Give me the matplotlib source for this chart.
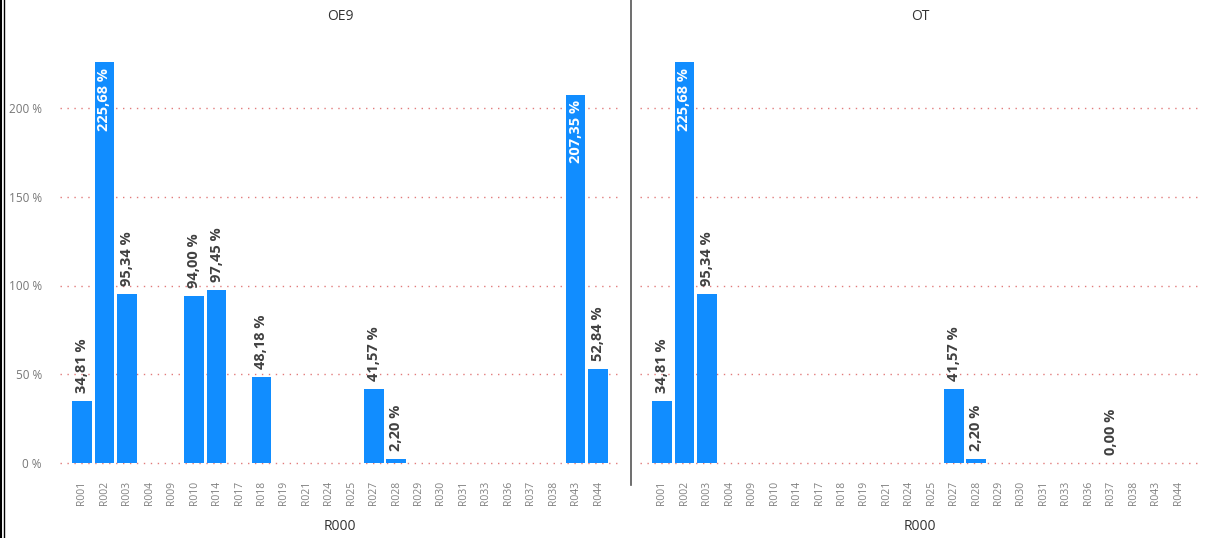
import matplotlib.pyplot as plt
import numpy as np

plt.rcParams['font.family'] = ['Open Sans', 'DejaVu Sans']

categories = ['R001', 'R002', 'R003', 'R004', 'R009', 'R010', 'R014', 'R017',
              'R018', 'R019', 'R021', 'R024', 'R025', 'R027', 'R028', 'R029',
              'R030', 'R031', 'R033', 'R036', 'R037', 'R038', 'R043', 'R044']

# percent values, nan = no data
oe9_values = [34.81, 225.68, 95.34, np.nan, np.nan, 94.00, 97.45, np.nan,
              48.18, np.nan, np.nan, np.nan, np.nan, 41.57, 2.20, np.nan,
              np.nan, np.nan, np.nan, np.nan, np.nan, np.nan, 207.35, 52.84]
ot_values = [34.81, 225.68, 95.34, np.nan, np.nan, np.nan, np.nan, np.nan,
             np.nan, np.nan, np.nan, np.nan, np.nan, 41.57, 2.20, np.nan,
             np.nan, np.nan, np.nan, np.nan, 0.00, np.nan, np.nan, np.nan]

panel_titles = ['OE9', 'OT']
yticks = [0, 50, 100, 150, 200]

bar_color = '#118DFF'
W, H = 1211, 538
fig = plt.figure(figsize=(W / 100, H / 100), dpi=100)

def fx(px):
    return px / W

def fy(py):
    return 1 - py / H

ymin, ymax = -1.5, 240
y0 = 463 - ymin * 1.775
y_top = 463 - ymax * 1.775
panels = [(60, oe9_values), (640, ot_values)]

for k, (left, vals) in enumerate(panels):
    ax = fig.add_axes([fx(left), fy(y0), fx(560), (y0 - y_top) / H])
    x = np.arange(len(categories))
    v = np.array(vals, dtype=float)
    ax.bar(x, np.nan_to_num(v), width=0.88, color=bar_color, zorder=3)
    ax.set_xlim(-0.98, len(categories) - 0.02)
    ax.set_ylim(ymin, ymax)
    for s in ax.spines.values():
        s.set_visible(False)
    ax.set_yticks(yticks)
    ax.yaxis.grid(True, color='#E27B7B', linestyle=(0, (1, 4)), linewidth=1.0, zorder=0)
    ax.tick_params(axis='y', length=0, pad=13, labelsize=8.5, labelcolor='#777777')
    if k == 0:
        ax.set_yticklabels([f'{t} %' for t in yticks])
    else:
        ax.set_yticklabels([])
    ax.set_xticks(x)
    ax.set_xticklabels(categories, rotation=90, fontsize=7.5, color='#808080')
    ax.tick_params(axis='x', length=0, pad=11)
    ax.set_xlabel('R000', fontsize=10, color='#333333', labelpad=10)

    for xi, val in zip(x, v):
        if np.isnan(val):
            continue
        txt = f'{val:.2f} %'.replace('.', ',')
        if val > 190:
            ax.text(xi, val - 3, txt, rotation=90, ha='center', va='top',
                    color='white', fontsize=10.5, fontweight='bold', zorder=4)
        else:
            ax.text(xi, val + 4.5, txt, rotation=90, ha='center', va='bottom',
                    color='#404040', fontsize=10.5, fontweight='bold', zorder=4)

    fig.text(fx(left + 280), fy(17), panel_titles[k], ha='center', va='center',
             fontsize=10, color='#333333')

# panel separator and left border
fig.add_artist(plt.Line2D([fx(631), fx(631)], [fy(0), fy(485)], color='#555555', linewidth=1.2))
fig.add_artist(plt.Line2D([fx(1), fx(1)], [0, 1], color='black', linewidth=1.5))
fig.add_artist(plt.Line2D([fx(4), fx(4)], [0, 1], color='black', linewidth=1.0))

fig.savefig('out.png', dpi=100)
